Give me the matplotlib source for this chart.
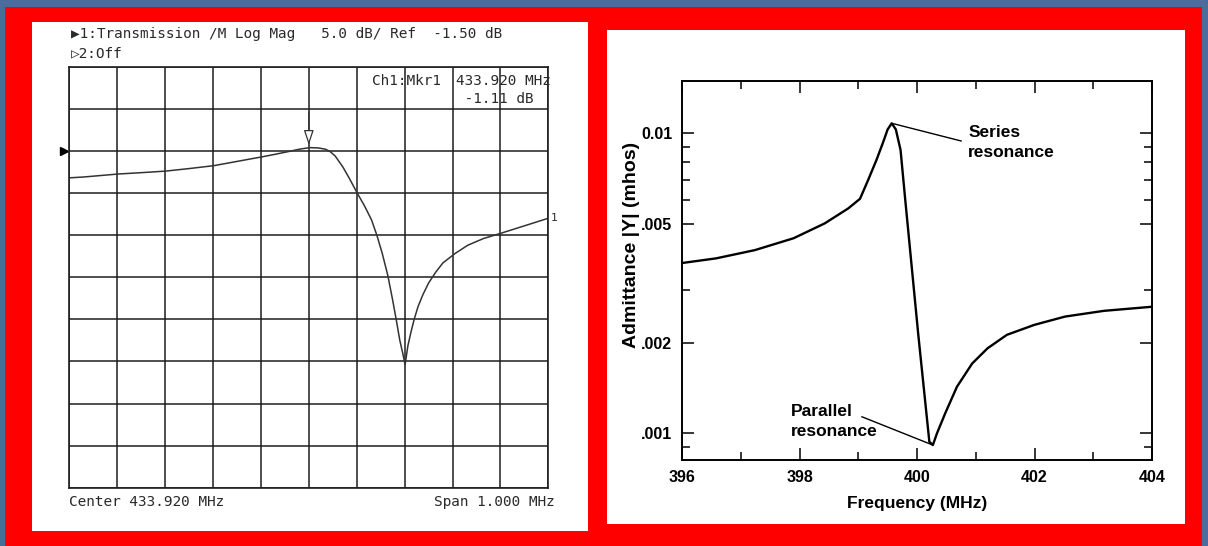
import matplotlib
matplotlib.use("Agg")
import matplotlib.pyplot as plt
import numpy as np
from matplotlib.patches import Rectangle
from matplotlib.ticker import FixedLocator, NullFormatter

# Left panel: network analyzer trace
freq_left = [433.420, 433.450, 433.521, 433.580, 433.621, 433.670, 433.722, 433.770,
             433.823, 433.850, 433.880, 433.900, 433.922, 433.940, 433.955, 433.965,
             433.975, 433.991, 434.005, 434.021, 434.036, 434.051, 434.062, 434.073,
             434.085, 434.095, 434.103, 434.110, 434.116, 434.121, 434.127, 434.133,
             434.140, 434.148, 434.158, 434.170, 434.185, 434.200, 434.225, 434.252,
             434.285, 434.320, 434.370, 434.420]
trace_db = [-4.7, -4.6, -4.25, -4.05, -3.9, -3.6, -3.25, -2.75,
            -2.2, -1.9, -1.55, -1.3, -1.11, -1.15, -1.3, -1.6,
            -2.1, -3.4, -4.8, -6.5, -8.0, -9.7, -11.5, -13.6,
            -16.3, -19.2, -21.7, -24.0, -25.5, -26.9, -24.6, -23.1,
            -21.5, -20.0, -18.6, -17.2, -15.9, -14.8, -13.7, -12.7,
            -11.9, -11.3, -10.4, -9.5]
center_mhz = 433.920
span_mhz = 1.0
ref_db = -1.50
scale_db = 5.0
mkr_f = 433.920
mkr_db = -1.11

# Right panel: admittance vs frequency
freq_right = [396.02, 396.58, 397.24, 397.90, 398.43, 398.83, 399.03, 399.17, 399.31,
              399.42, 399.50, 399.57, 399.64, 399.72, 399.80, 400.02, 400.21, 400.27, 400.34,
              400.48, 400.68, 400.94, 401.20, 401.53, 402.00, 402.52, 403.18, 403.98]
adm_right = [3.70e-3, 3.83e-3, 4.08e-3, 4.47e-3, 5.01e-3, 5.62e-3, 6.05e-3, 7.0e-3, 8.15e-3,
             9.3e-3, 1.03e-2, 1.08e-2, 1.03e-2, 8.8e-3, 6.0e-3, 2.15e-3, 0.938e-3, 0.914e-3, 1.0e-3,
             1.166e-3, 1.43e-3, 1.71e-3, 1.92e-3, 2.13e-3, 2.30e-3, 2.45e-3, 2.56e-3, 2.64e-3]
y_ticks = [0.001, 0.002, 0.005, 0.01]
y_ticklabels = [".001", ".002", ".005", "0.01"]
y_minor = [0.0009, 0.003, 0.006, 0.007, 0.008, 0.009]
x_ticks = [396, 398, 400, 402, 404]
x_minor = [397, 399, 401, 403]

W, H = 1208, 546
def box(x0, y0, x1, y1):
    return [x0 / W, 1 - y1 / H, (x1 - x0) / W, (y1 - y0) / H]

fig = plt.figure(figsize=(W / 100, H / 100), dpi=100, facecolor="#4b6d9b")
# red frame and the two white cards, kept behind the axes
for (x0, y0, x1, y1), c in [((5, 7, 1202, 546), "#ff0000"),
                            ((32, 22, 588, 531), "white"),
                            ((607, 30, 1185, 524), "white")]:
    b = box(x0, y0, x1, y1)
    fig.add_artist(Rectangle((b[0], b[1]), b[2], b[3], transform=fig.transFigure,
                             facecolor=c, edgecolor="none", zorder=-5))

# ---- left: analyzer screen ----
mono = ["DejaVu Sans Mono", "DejaVu Sans"]
ink = "#2a2a2a"
axL = fig.add_axes(box(69.3, 66.7, 548.3, 487.7))
axL.patch.set_alpha(0)
axL.set_xlim(center_mhz - span_mhz / 2, center_mhz + span_mhz / 2)
axL.set_ylim(ref_db - 8 * scale_db, ref_db + 2 * scale_db)
axL.set_xticks(np.linspace(center_mhz - span_mhz / 2, center_mhz + span_mhz / 2, 11))
axL.set_yticks(np.arange(ref_db - 8 * scale_db, ref_db + 2 * scale_db + 0.1, scale_db))
axL.tick_params(length=0, labelbottom=False, labelleft=False)
axL.grid(True, color="#1e1e1e", lw=1.1)
for s in axL.spines.values():
    s.set_color("#1e1e1e")
    s.set_linewidth(1.2)
axL.plot(freq_left, trace_db, color="#333333", lw=1.1)

# marker arrow and reference triangle
axL.annotate("", xy=(mkr_f, mkr_db + 0.3), xytext=(0, 24), textcoords="offset points",
             arrowprops=dict(arrowstyle="-|>,head_length=0.9,head_width=0.3",
                             fc="white", ec="#333333", lw=0.9, shrinkA=0, shrinkB=0))
axL.plot([-0.012], [ref_db], marker=">", color="black", ms=6,
         transform=axL.get_yaxis_transform(), clip_on=False)
axL.text(1.006, trace_db[-1], "1", transform=axL.get_yaxis_transform(),
         fontsize=8, va="center", color=ink, family=mono)

tk = dict(family=mono, fontsize=10.4, color=ink, va="center")
fig.text(71 / W, 1 - 34 / H, "▶1:Transmission /M Log Mag   5.0 dB/ Ref  -1.50 dB", **tk)
fig.text(71 / W, 1 - 53 / H, "▷2:Off", **tk)
fig.text(372 / W, 1 - 81 / H, "Ch1:Mkr1", **tk)
fig.text(456 / W, 1 - 81 / H, "433.920 MHz", **tk)
fig.text(456 / W, 1 - 99 / H, " -1.11 dB", **tk)
fig.text(69 / W, 1 - 502 / H, "Center 433.920 MHz", **tk)
fig.text(555 / W, 1 - 502 / H, "Span 1.000 MHz", ha="right", **tk)

# ---- right: admittance plot ----
narrow = ["Liberation Sans Narrow", "Liberation Sans", "DejaVu Sans"]
axR = fig.add_axes(box(682, 81, 1152, 460))
axR.patch.set_alpha(0)
axR.semilogy(freq_right, adm_right, color="black", lw=1.7)
axR.set_xlim(396, 404)
axR.set_ylim(0.000815, 0.01494)
axR.set_xticks(x_ticks)
axR.set_xticks(x_minor, minor=True)
axR.yaxis.set_major_locator(FixedLocator(y_ticks))
axR.yaxis.set_minor_locator(FixedLocator(y_minor))
axR.yaxis.set_minor_formatter(NullFormatter())
axR.set_yticklabels(y_ticklabels)
axR.tick_params(which="both", direction="in", top=True, right=True, width=1.1)
axR.tick_params(which="major", length=8.5, pad=7)
axR.tick_params(which="minor", length=5.5)
for lab in axR.get_xticklabels() + axR.get_yticklabels():
    lab.set_family(narrow)
    lab.set_fontweight("bold")
    lab.set_fontsize(11.5)
for s in axR.spines.values():
    s.set_linewidth(1.4)

axR.set_xlabel("Frequency (MHz)", family=narrow, fontweight="bold", fontsize=12.5)
axR.xaxis.set_label_coords(0.5, -0.095)
axR.set_ylabel("Admittance |Y| (mhos)", family=narrow, fontweight="bold", fontsize=14)
axR.yaxis.set_label_coords(-0.1085, 0.567)
axR.yaxis.label.set_va("center")

ipk = int(np.argmax(adm_right))
imin = int(np.argmin(adm_right))
axR.annotate("Series\nresonance", xy=(freq_right[ipk], adm_right[ipk]),
             xytext=(400.87, 9.3e-3), ha="left", va="center",
             family=narrow, fontweight="bold", fontsize=12.5, linespacing=1.45,
             arrowprops=dict(arrowstyle="-", color="black", lw=1.0,
                             relpos=(0, 0.5), shrinkA=3, shrinkB=1))
axR.text(397.855, 1.093e-3, "Parallel\nresonance", ha="left", va="center",
         family=narrow, fontweight="bold", fontsize=12.5, linespacing=1.45)
axR.annotate("", xy=(freq_right[imin], adm_right[imin]), xytext=(399.06, 1.136e-3),
             arrowprops=dict(arrowstyle="-", color="black", lw=1.0, shrinkA=0, shrinkB=1))

fig.savefig("out.png", dpi=100, facecolor=fig.get_facecolor())
